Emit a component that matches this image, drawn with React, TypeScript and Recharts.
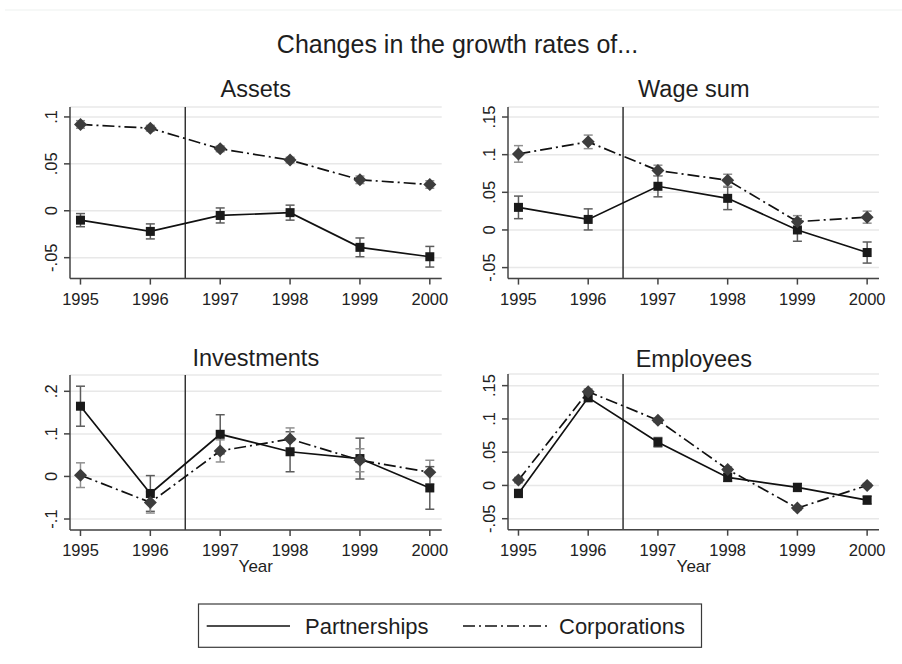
import React from 'react';
import { LineChart, Line, XAxis, YAxis, CartesianGrid, ReferenceLine, ErrorBar } from 'recharts';

const FONT = '"Liberation Sans", Arial, Helvetica, sans-serif';

const years = [1995, 1996, 1997, 1998, 1999, 2000];
const yearTicks = [1995, 1996, 1997, 1998, 1999, 2000];

// Assets
const assetsPart = [-0.01, -0.022, -0.005, -0.002, -0.039, -0.049];
const assetsPartErr = [0.007, 0.008, 0.008, 0.008, 0.01, 0.011];
const assetsCorp = [0.092, 0.088, 0.066, 0.054, 0.033, 0.028];
const assetsCorpErr = [0.004, 0.003, 0.003, 0.003, 0.004, 0.004];
const assetsTicks = [-0.05, 0, 0.05, 0.1];

// Wage sum
const wagePart = [0.03, 0.014, 0.058, 0.042, 0.0, -0.03];
const wagePartErr = [0.015, 0.014, 0.014, 0.015, 0.015, 0.014];
const wageCorp = [0.101, 0.117, 0.079, 0.066, 0.011, 0.017];
const wageCorpErr = [0.011, 0.009, 0.007, 0.008, 0.008, 0.008];
const wageTicks = [-0.05, 0, 0.05, 0.1, 0.15];

// Investments
const invPart = [0.165, -0.04, 0.099, 0.058, 0.042, -0.027];
const invPartErr = [0.047, 0.042, 0.046, 0.047, 0.048, 0.05];
const invCorp = [0.003, -0.061, 0.06, 0.088, 0.038, 0.01];
const invCorpErr = [0.029, 0.025, 0.026, 0.026, 0.027, 0.028];
const invTicks = [-0.1, 0, 0.1, 0.2];

// Employees
const empPart = [-0.012, 0.132, 0.065, 0.012, -0.003, -0.022];
const empPartErr = [0.006, 0.006, 0.007, 0.006, 0.006, 0.006];
const empCorp = [0.008, 0.141, 0.098, 0.024, -0.034, 0.0];
const empCorpErr = [0.004, 0.004, 0.003, 0.004, 0.003, 0.003];
const empTicks = [-0.05, 0, 0.05, 0.1, 0.15];

type Row = { year: number; part: number; partErr: number; corp: number; corpErr: number };

const buildRows = (part: number[], partErr: number[], corp: number[], corpErr: number[]): Row[] =>
  years.map((year, i) => ({ year, part: part[i], partErr: partErr[i], corp: corp[i], corpErr: corpErr[i] }));

// Stata-style labels: .1, .05, 0, -.05
const fmt = (v: number) => (v === 0 ? '0' : String(v).replace('0.', '.'));

const TICK_FONT = 16.5;

const RotatedTick = (props: any) => {
  const { x, y, payload } = props;
  return (
    <text
      x={x}
      y={y}
      transform={`rotate(-90, ${x}, ${y})`}
      textAnchor="middle"
      fontSize={TICK_FONT}
      fontFamily={FONT}
      fill="#222"
    >
      {fmt(payload.value)}
    </text>
  );
};

const SquareDot = (props: any) => {
  const { cx, cy, index } = props;
  if (cx == null || cy == null) return <g key={`sq-${index}`} />;
  return <rect key={`sq-${index}`} x={cx - 4.5} y={cy - 4.5} width={9} height={9} fill="#1a1a1a" />;
};

const DiamondDot = (props: any) => {
  const { cx, cy, index } = props;
  if (cx == null || cy == null) return <g key={`dm-${index}`} />;
  const r = 6.5;
  return (
    <polygon
      key={`dm-${index}`}
      points={`${cx},${cy - r} ${cx + r},${cy} ${cx},${cy + r} ${cx - r},${cy}`}
      fill="#3d3d3d"
    />
  );
};

const DASH_DOT = '12 4 2 4';

interface PanelProps {
  rows: Row[];
  ticks: number[];
  domain: [number, number];
  plotLeft: number;
  plotTop: number;
  plotRight: number;
  plotBottom: number;
}

// each panel: the plot area is placed at the given page coordinates
const Panel: React.FC<PanelProps> = ({ rows, ticks, domain, plotLeft, plotTop, plotRight, plotBottom }) => {
  const yAxisW = 70;
  const top = 30;
  const right = 10;
  const xAxisH = 40;
  const bottom = 5;
  const width = plotRight - plotLeft + yAxisW + right;
  const height = plotBottom - plotTop + top + xAxisH + bottom;
  return (
    <div style={{ position: 'absolute', left: plotLeft - yAxisW, top: plotTop - top, width, height }}>
      <LineChart width={width} height={height} data={rows} margin={{ top, right, left: 0, bottom }}>
        <CartesianGrid vertical={false} stroke="#e8e8e8" strokeWidth={1.5} />
        <XAxis
          dataKey="year"
          type="number"
          domain={[1994.85, 2000.17]}
          ticks={yearTicks}
          allowDataOverflow
          height={xAxisH}
          tickSize={6}
          tickMargin={8.4}
          stroke="#444"
          strokeWidth={1.5}
          tick={{ fontSize: TICK_FONT, fontFamily: FONT, fill: '#222' }}
          interval={0}
        />
        <YAxis
          type="number"
          domain={domain}
          ticks={ticks}
          allowDataOverflow
          width={yAxisW}
          tickSize={6}
          tickMargin={7}
          stroke="#444"
          strokeWidth={1.5}
          tick={<RotatedTick />}
          interval={0}
        />
        <ReferenceLine x={1996.5} stroke="#333" strokeWidth={1.5} />
        <Line
          dataKey="part"
          stroke="#111"
          strokeWidth={1.7}
          dot={SquareDot}
          activeDot={false}
          isAnimationActive={false}
        >
          <ErrorBar dataKey="partErr" direction="y" width={4.5} stroke="#5c5c5c" strokeWidth={1.5} />
        </Line>
        <Line
          dataKey="corp"
          stroke="#111"
          strokeWidth={1.7}
          strokeDasharray={DASH_DOT}
          dot={DiamondDot}
          activeDot={false}
          isAnimationActive={false}
        >
          <ErrorBar dataKey="corpErr" direction="y" width={4.5} stroke="#909090" strokeWidth={1.5} />
        </Line>
      </LineChart>
    </div>
  );
};

const txt = { fontFamily: FONT, fill: '#1e1e1e' };

export default function App() {
  return (
    <div style={{ position: 'absolute', left: 0, top: 0, width: 902, height: 664, background: '#fff', overflow: 'hidden' }}>
      <Panel
        rows={buildRows(assetsPart, assetsPartErr, assetsCorp, assetsCorpErr)}
        ticks={assetsTicks}
        domain={[-0.0723, 0.1106]}
        plotLeft={70}
        plotTop={106.7}
        plotRight={441.7}
        plotBottom={278.3}
      />
      <Panel
        rows={buildRows(wagePart, wagePartErr, wageCorp, wageCorpErr)}
        ticks={wageTicks}
        domain={[-0.0646, 0.1633]}
        plotLeft={508.3}
        plotTop={106.7}
        plotRight={879.3}
        plotBottom={278.3}
      />
      <Panel
        rows={buildRows(invPart, invPartErr, invCorp, invCorpErr)}
        ticks={invTicks}
        domain={[-0.1258, 0.2383]}
        plotLeft={70}
        plotTop={375}
        plotRight={441.7}
        plotBottom={530}
      />
      <Panel
        rows={buildRows(empPart, empPartErr, empCorp, empCorpErr)}
        ticks={empTicks}
        domain={[-0.0665, 0.1675]}
        plotLeft={508.3}
        plotTop={374.3}
        plotRight={879.3}
        plotBottom={530}
      />
      {/* titles, axis titles and the shared legend */}
      <svg width={902} height={664} style={{ position: 'absolute', left: 0, top: 0, pointerEvents: 'none' }}>
        <line x1={5} y1={10} x2={902} y2={10} stroke="#edf1ef" strokeWidth={1} />
        <text x={457.5} y={53.3} textAnchor="middle" fontSize={25} {...txt}>
          Changes in the growth rates of...
        </text>
        <text x={255.8} y={97.3} textAnchor="middle" fontSize={23.5} {...txt}>Assets</text>
        <text x={693.8} y={97.3} textAnchor="middle" fontSize={23.5} {...txt}>Wage sum</text>
        <text x={255.8} y={366} textAnchor="middle" fontSize={23.5} {...txt}>Investments</text>
        <text x={693.8} y={366.5} textAnchor="middle" fontSize={23.5} {...txt}>Employees</text>
        <text x={255.8} y={571.7} textAnchor="middle" fontSize={17} {...txt}>Year</text>
        <text x={693.8} y={571.7} textAnchor="middle" fontSize={17} {...txt}>Year</text>

        <rect x={198.5} y={604} width={503} height={43.3} fill="#fff" stroke="#3a3a3a" strokeWidth={1.2} />
        <line x1={206.7} y1={626} x2={290} y2={626} stroke="#111" strokeWidth={1.7} />
        <text x={305} y={634.3} fontSize={22} {...txt}>Partnerships</text>
        <line x1={463} y1={626} x2={548} y2={626} stroke="#111" strokeWidth={1.7} strokeDasharray={DASH_DOT} />
        <text x={559} y={634.3} fontSize={22} {...txt}>Corporations</text>
      </svg>
    </div>
  );
}
